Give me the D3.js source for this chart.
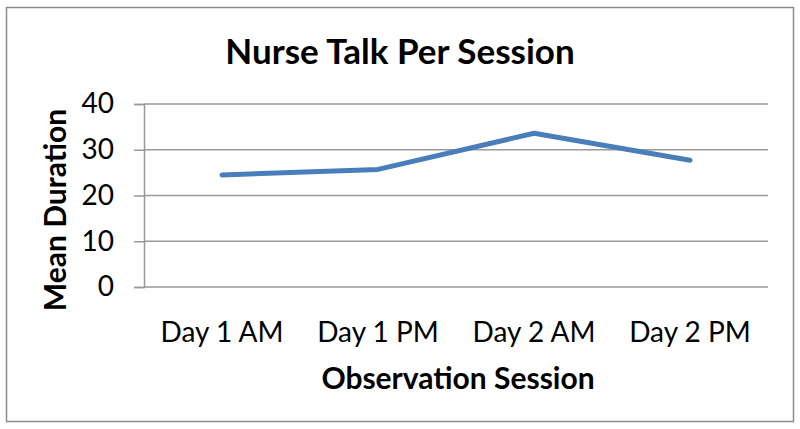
<!DOCTYPE html>
<html>
<head>
<meta charset="utf-8">
<script src="https://cdn.jsdelivr.net/npm/d3@7"></script>
<style>
  body { margin: 0; background: #fff; }
  text { font-family: Lato, "Open Sans", sans-serif; fill: #000; }
</style>
</head>
<body>
<div id="chart"></div>
<script>
const sessions = ['Day 1 AM', 'Day 1 PM', 'Day 2 AM', 'Day 2 PM']
const meanDuration = [24.5, 25.7, 33.6, 27.7]
const yTicks = [0, 10, 20, 30, 40]

const width = 800
const height = 429
const margin = { top: 104, right: 32, bottom: 142, left: 144 }

const svg = d3.select('#chart')
  .append('svg')
  .attr('width', width)
  .attr('height', height)

// outer frame
svg.append('rect')
  .attr('x', 6.5).attr('y', 7.5)
  .attr('width', 787).attr('height', 414)
  .attr('fill', '#fff')
  .attr('stroke', '#8c8c8c')
  .attr('stroke-width', 1.5)

const x = d3.scaleBand()
  .domain(sessions)
  .range([margin.left, width - margin.right])

const y = d3.scaleLinear()
  .domain([0, 40])
  .range([height - margin.bottom, margin.top])

// gridlines + y ticks
const yAxis = svg.append('g')
  .attr('transform', `translate(${margin.left},0)`)
  .call(d3.axisLeft(y).tickValues(yTicks).tickSize(10).tickPadding(20))
yAxis.select('.domain').attr('stroke', '#999').attr('stroke-width', 1.5)
yAxis.selectAll('.tick line').attr('stroke', '#999').attr('stroke-width', 1.5)
yAxis.selectAll('.tick text')
  .attr('font-size', 28)
  .attr('font-family', 'Lato, sans-serif')
  .attr('fill', '#000')

svg.append('g')
  .selectAll('line')
  .data(yTicks)
  .enter()
  .append('line')
  .attr('x1', margin.left)
  .attr('x2', width - margin.right)
  .attr('y1', d => y(d))
  .attr('y2', d => y(d))
  .attr('stroke', '#999')
  .attr('stroke-width', 1.5)

// x labels
const xAxis = svg.append('g')
  .attr('transform', `translate(0,${height - margin.bottom})`)
  .call(d3.axisBottom(x).tickSize(0).tickPadding(35))
xAxis.select('.domain').remove()
xAxis.selectAll('.tick text')
  .attr('font-size', 28)
  .attr('font-family', 'Lato, sans-serif')
  .attr('fill', '#000')

// the line
const line = d3.line()
  .x(d => x(d[0]) + x.bandwidth() / 2)
  .y(d => y(d[1]))

svg.append('path')
  .datum(sessions.map((s, i) => [s, meanDuration[i]]))
  .attr('d', line)
  .attr('fill', 'none')
  .attr('stroke', '#4a7ebb')
  .attr('stroke-width', 5)
  .attr('stroke-linejoin', 'round')
  .attr('stroke-linecap', 'round')

// titles
svg.append('text')
  .attr('x', 400).attr('y', 64)
  .attr('text-anchor', 'middle')
  .attr('font-size', 35)
  .attr('font-weight', 'bold')
  .text('Nurse Talk Per Session')

svg.append('text')
  .attr('x', 458).attr('y', 389)
  .attr('text-anchor', 'middle')
  .attr('font-size', 30)
  .attr('font-weight', 'bold')
  .text('Observation Session')

svg.append('text')
  .attr('transform', 'translate(66,210) rotate(-90)')
  .attr('text-anchor', 'middle')
  .attr('font-size', 30)
  .attr('font-weight', 'bold')
  .text('Mean Duration')
</script>
</body>
</html>
